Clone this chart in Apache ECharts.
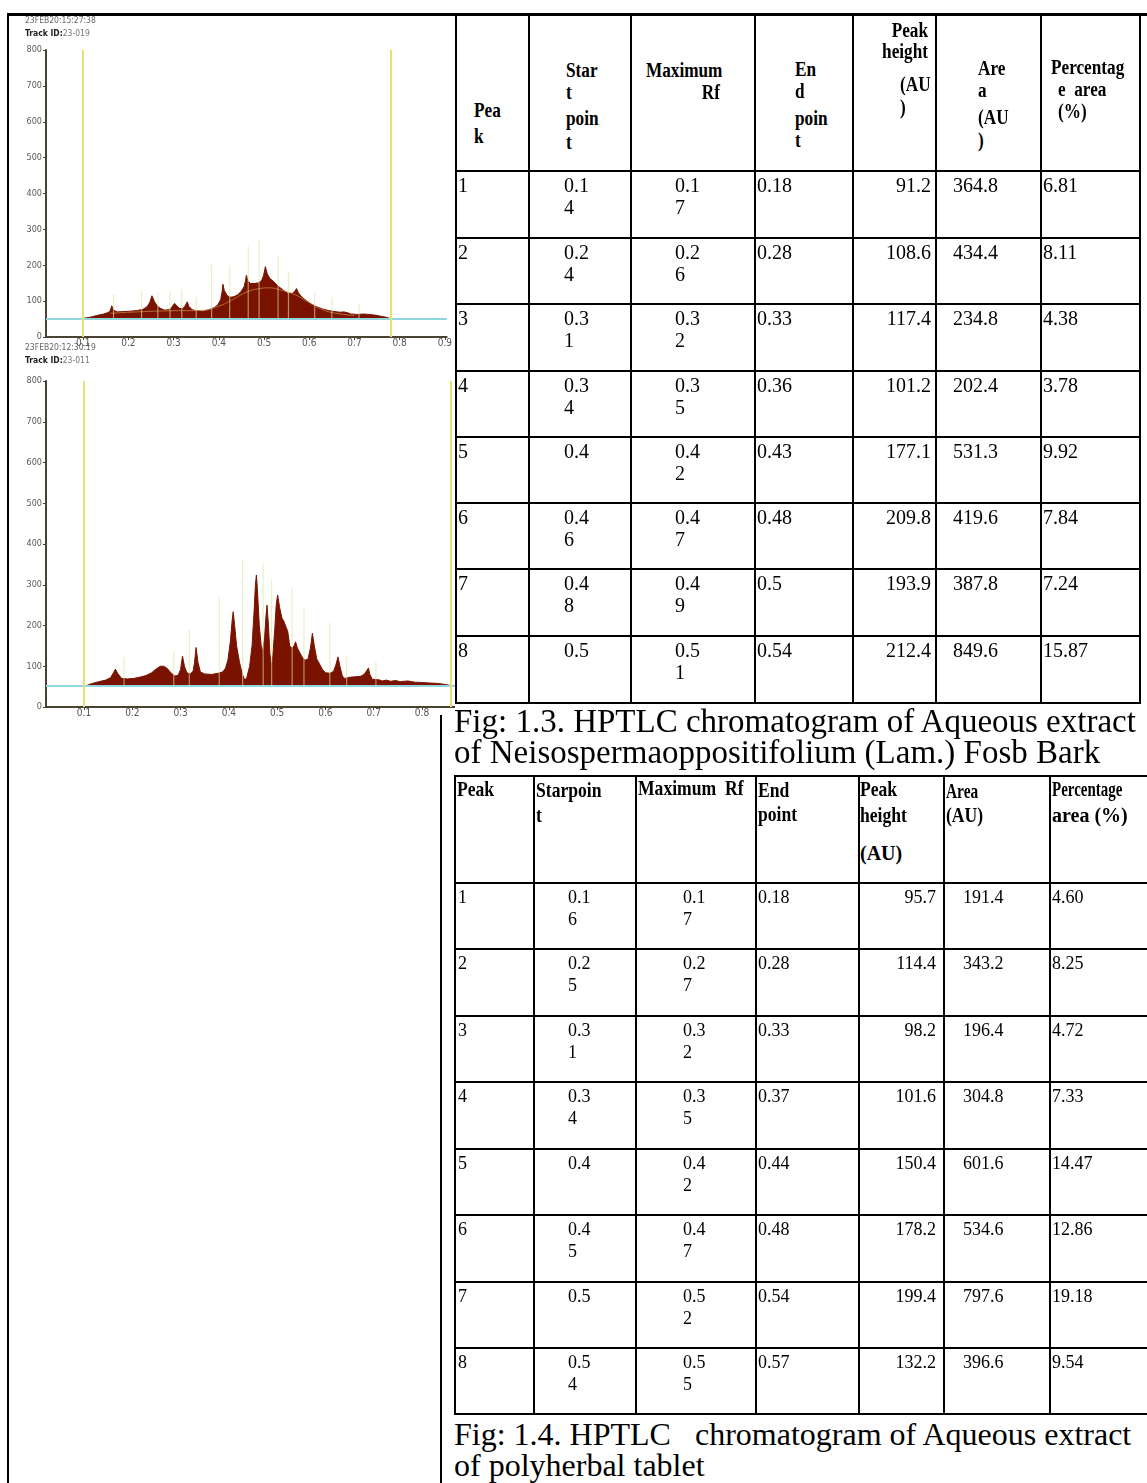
<!DOCTYPE html>
<html>
<head>
<meta charset="utf-8">
<script src="https://cdn.jsdelivr.net/npm/echarts@6.0.0/dist/echarts.min.js"></script>
<style>
  html, body { margin: 0; padding: 0; background: #fff; }
  #page { position: relative; width: 1147px; height: 1483px; overflow: hidden; background: #fff; }
  #chromatograms { position: absolute; left: 0; top: 0; width: 455px; height: 720px; }
  .rule { position: absolute; background: #000; }
  .t { position: absolute; white-space: pre; font-family: 'Liberation Serif', 'Times New Roman', serif; color: #000; }
</style>
</head>
<body>
<div id="page"><div id="chromatograms"></div></div>
<script>
// ---------- densitogram data (Rf, AU) ----------
const rfTicks = [0.1, 0.2, 0.3, 0.4, 0.5, 0.6, 0.7, 0.8, 0.9];

const track1Stamp = '23FEB20:15:27:38';
const track1Id = '23-019';
const track2Stamp = '23FEB20:12:30:19';
const track2Id = '23-011';

const baseline1 = 52;
const window1 = [0.1, 0.78];
const scan1 = [
  [0.100,52],[0.115,55],[0.130,60],[0.145,64],[0.155,68],[0.160,74],[0.163,87],[0.167,75],[0.175,70],
  [0.190,71],[0.205,72],[0.220,74],[0.232,77],[0.241,84],[0.247,96],[0.252,115],[0.257,100],[0.263,88],
  [0.270,80],[0.280,75],[0.290,76],[0.296,83],[0.302,94],[0.307,87],[0.313,80],[0.320,79],[0.325,86],
  [0.330,98],[0.334,85],[0.341,76],[0.350,73],[0.365,72],[0.378,76],[0.390,82],[0.398,90],[0.404,104],
  [0.407,125],[0.409,147],[0.412,130],[0.418,116],[0.425,111],[0.433,112],[0.442,118],[0.450,128],
  [0.456,141],[0.459,157],[0.461,172],[0.464,157],[0.470,149],[0.478,149],[0.488,151],[0.495,158],
  [0.499,172],[0.503,196],[0.507,176],[0.513,163],[0.520,156],[0.530,143],[0.540,133],[0.552,122],
  [0.562,121],[0.567,126],[0.572,135],[0.576,123],[0.584,111],[0.595,100],[0.605,91],[0.617,84],
  [0.630,78],[0.642,74],[0.655,71],[0.668,69],[0.676,70],[0.680,74],[0.684,68],[0.692,64],[0.705,63],
  [0.720,64],[0.732,63],[0.745,61],[0.758,58],[0.770,55],[0.778,52]
];
const fit1 = [
  [0.16,66],[0.22,70],[0.29,73],[0.36,74],[0.40,86],[0.43,104],[0.46,124],[0.49,135],[0.51,137],
  [0.54,130],[0.57,117],[0.60,96],[0.63,76],[0.66,66],[0.70,60]
];
const markers1 = [
  [0.167,119],[0.229,129],[0.265,125],[0.292,129],[0.318,133],[0.350,111],[0.384,203],[0.424,199],
  [0.465,252],[0.489,270],[0.531,226],[0.554,181],[0.612,125],[0.650,111],[0.710,94]
];

const baseline2 = 52;
const window2 = [0.104, 0.86];
const scan2 = [
  [0.104,52],[0.115,57],[0.130,62],[0.145,66],[0.155,72],[0.161,84],[0.165,93],[0.170,82],[0.178,70],
  [0.190,69],[0.202,70],[0.215,73],[0.228,77],[0.240,84],[0.250,94],[0.258,100],[0.265,100],[0.272,95],
  [0.280,84],[0.288,76],[0.295,78],[0.300,92],[0.304,125],[0.308,100],[0.313,84],[0.320,81],[0.326,88],
  [0.329,110],[0.332,146],[0.336,110],[0.341,86],[0.350,81],[0.365,80],[0.378,83],[0.387,86],[0.393,95],
  [0.398,115],[0.403,160],[0.407,215],[0.409,234],[0.412,200],[0.416,150],[0.422,110],[0.428,80],
  [0.433,66],[0.437,72],[0.443,100],[0.448,150],[0.452,230],[0.455,300],[0.457,324],[0.459,290],
  [0.463,200],[0.467,150],[0.470,136],[0.474,170],[0.477,225],[0.479,250],[0.482,200],[0.485,130],
  [0.488,99],[0.491,125],[0.495,190],[0.498,250],[0.501,275],[0.505,245],[0.510,218],[0.514,210],
  [0.518,206],[0.522,185],[0.526,150],[0.531,144],[0.535,150],[0.538,160],[0.542,145],[0.547,133],
  [0.553,120],[0.558,115],[0.564,118],[0.569,145],[0.573,181],[0.577,150],[0.582,118],[0.588,105],
  [0.594,92],[0.600,84],[0.610,83],[0.617,88],[0.622,105],[0.626,123],[0.630,100],[0.635,76],
  [0.640,70],[0.650,73],[0.660,74],[0.672,75],[0.680,80],[0.686,90],[0.689,96],[0.692,80],[0.697,68],
  [0.710,67],[0.718,64],[0.726,66],[0.735,63],[0.745,65],[0.755,62],[0.770,64],[0.785,61],[0.800,60],
  [0.815,59],[0.830,58],[0.845,56],[0.858,53]
];
const markers2 = [
  [0.183,123],[0.286,137],[0.318,189],[0.380,270],[0.4285,363],[0.471,353],[0.4886,312],[0.531,290],
  [0.5555,243],[0.609,207],[0.644,123],[0.7045,111]
];

// ---------- peak tables ----------
const peakNo = ['1','2','3','4','5','6','7','8'];

const head1 = [['Pea','k'], ['Star','t','poin','t'], ['Maximum','Rf'], ['En','d','poin','t'],
               ['Peak','height','(AU',')'], ['Are','a','(AU',')'], ['Percentag','e  area','(%)']];
const start1 = ['0.14','0.24','0.31','0.34','0.4','0.46','0.48','0.5'];
const max1   = ['0.17','0.26','0.32','0.35','0.42','0.47','0.49','0.51'];
const end1   = ['0.18','0.28','0.33','0.36','0.43','0.48','0.5','0.54'];
const height1 = ['91.2','108.6','117.4','101.2','177.1','209.8','193.9','212.4'];
const area1   = ['364.8','434.4','234.8','202.4','531.3','419.6','387.8','849.6'];
const pct1    = ['6.81','8.11','4.38','3.78','9.92','7.84','7.24','15.87'];

const head2 = [['Peak'], ['Starpoin','t'], ['Maximum  Rf'], ['End','point'],
               ['Peak','height','(AU)'], ['Area','(AU)'], ['Percentage','area (%)']];
const start2 = ['0.16','0.25','0.31','0.34','0.4','0.45','0.5','0.54'];
const max2   = ['0.17','0.27','0.32','0.35','0.42','0.47','0.52','0.55'];
const end2   = ['0.18','0.28','0.33','0.37','0.44','0.48','0.54','0.57'];
const height2 = ['95.7','114.4','98.2','101.6','150.4','178.2','199.4','132.2'];
const area2   = ['191.4','343.2','196.4','304.8','601.6','534.6','797.6','396.6'];
const pct2    = ['4.60','8.25','4.72','7.33','14.47','12.86','19.18','9.54'];

const caption1 = ['Fig: 1.3. HPTLC chromatogram of Aqueous extract',
                  'of Neisospermaoppositifolium (Lam.) Fosb Bark'];
const caption2 = ['Fig: 1.4. HPTLC   chromatogram of Aqueous extract',
                  'of polyherbal tablet'];

// ---------- densitograms ----------
const FILL = '#7a1200';
const AXIS = '#4a4331';
const CYAN = '#8fd6de';
const YELLOW = '#e9df73';
const SMALL_FONT = '"DejaVu Sans Condensed", "Liberation Sans Narrow", "Roboto", sans-serif';

function xAxisFor(idx, min, max) {
  return {
    type: 'value', gridIndex: idx, min: min, max: max,
    axisLine: { show: true, onZero: false, lineStyle: { color: AXIS, width: 2 } },
    axisTick: { show: true, length: 3, customValues: rfTicks, lineStyle: { color: AXIS } },
    axisLabel: { customValues: rfTicks, formatter: v => v.toFixed(1), color: '#555', fontSize: 10,
                 fontFamily: SMALL_FONT, margin: 1, alignMinLabel: 'center', alignMaxLabel: 'center' },
    splitLine: { show: false }
  };
}
function yAxisFor(idx) {
  return {
    type: 'value', gridIndex: idx, min: 0, max: 800, interval: 100,
    axisLine: { show: true, lineStyle: { color: AXIS, width: 2 } },
    axisTick: { show: true, length: 3, lineStyle: { color: AXIS } },
    axisLabel: { color: '#5a5a5a', fontSize: 9, fontFamily: SMALL_FONT, margin: 4 },
    splitLine: { show: false }
  };
}
function scanSeries(idx, data, base, win) {
  return {
    type: 'line', xAxisIndex: idx, yAxisIndex: idx, data: data, symbol: 'none', z: 3,
    lineStyle: { color: FILL, width: 1 },
    areaStyle: { color: FILL, opacity: 1, origin: base },
    markLine: {
      silent: true, symbol: ['none', 'none'], label: { show: false }, animation: false,
      data: [
        { yAxis: base, lineStyle: { color: CYAN, width: 2, type: 'solid' } },
        { xAxis: win[0], lineStyle: { color: YELLOW, width: 2, type: 'solid' } },
        { xAxis: win[1], lineStyle: { color: YELLOW, width: 2, type: 'solid' } }
      ]
    }
  };
}
function markerSeries(idx, data, base) {
  return {
    type: 'custom', xAxisIndex: idx, yAxisIndex: idx, data: data, z: 5, silent: true,
    renderItem: function (params, api) {
      const p0 = api.coord([api.value(0), base]);
      const p1 = api.coord([api.value(0), api.value(1)]);
      return { type: 'line', shape: { x1: p0[0], y1: p0[1], x2: p1[0], y2: p1[1] },
               style: { stroke: 'rgba(218,230,160,0.6)', lineWidth: 1.2 } };
    }
  };
}
function stampText(x, y, stamp, id) {
  return [
    { type: 'text', x: x, y: y, style: { text: stamp, fill: '#666', font: '8.5px ' + SMALL_FONT, verticalAlign: 'middle' } },
    { type: 'text', x: x, y: y + 13, style: {
        text: '{b|Track ID:}' + id, fill: '#777', font: '8.5px ' + SMALL_FONT, verticalAlign: 'middle',
        rich: { b: { fontWeight: 'bold', fill: '#222', fontSize: 8.5, fontFamily: SMALL_FONT } } } }
  ];
}

const chart = echarts.init(document.getElementById('chromatograms'), null, { renderer: 'canvas' });
chart.setOption({
  animation: false,
  backgroundColor: 'transparent',
  grid: [
    { left: 46, top: 50, width: 409, height: 287 },
    { left: 46, top: 381, width: 409, height: 326 }
  ],
  xAxis: [xAxisFor(0, 0.0176, 0.904), xAxisFor(1, 0.0213, 0.8683)],
  yAxis: [yAxisFor(0), yAxisFor(1)],
  series: [
    scanSeries(0, scan1, baseline1, window1),
    { type: 'line', xAxisIndex: 0, yAxisIndex: 0, data: fit1, symbol: 'none', smooth: 0.5, z: 4,
      lineStyle: { color: '#c98a45', width: 1, opacity: 0.75 } },
    markerSeries(0, markers1, baseline1),
    scanSeries(1, scan2, baseline2, window2),
    markerSeries(1, markers2, baseline2)
  ],
  graphic: stampText(25, 21, track1Stamp, track1Id).concat(stampText(25, 348, track2Stamp, track2Id))
});

// ---------- page rules, tables and captions ----------
const page = document.getElementById('page');
function rule(x, y, w, h) {
  const d = document.createElement('div');
  d.className = 'rule';
  d.style.left = x + 'px'; d.style.top = y + 'px';
  d.style.width = w + 'px'; d.style.height = h + 'px';
  page.appendChild(d);
}
// one text block; several lines share a single element with a fixed line pitch
function label(lines, x, yc, o) {
  const d = document.createElement('div');
  d.className = 't';
  const lh = o.lh || Math.round(o.size * 1.15);
  d.style.fontSize = o.size + 'px';
  d.style.lineHeight = lh + 'px';
  d.style.top = (yc - lh / 2) + 'px';
  if (o.bold) d.style.fontWeight = 'bold';
  if (o.align === 'right') {
    d.style.left = (x - 400) + 'px'; d.style.width = '400px'; d.style.textAlign = 'right';
  } else {
    d.style.left = x + 'px';
  }
  if (o.sx) {
    d.style.transform = 'scaleX(' + o.sx + ')';
    d.style.transformOrigin = o.align === 'right' ? 'right top' : 'left top';
  }
  d.textContent = Array.isArray(lines) ? lines.join('\n') : lines;
  page.appendChild(d);
}
function drawGrid(cols, rows, w) {
  const x0 = cols[0], x1 = cols[cols.length - 1], y0 = rows[0], y1 = rows[rows.length - 1];
  rows.forEach(y => rule(x0 - w / 2, y - w / 2, x1 - x0 + w, w));
  cols.forEach(x => rule(x - w / 2, y0 - w / 2, w, y1 - y0 + w));
}
// narrow Rf cells wrap after three characters
function wrap3(s) { return s.length > 3 ? [s.slice(0, 3), s.slice(3)] : [s]; }
function drawBody(rows, colPos, columns, size, lh) {
  for (let r = 0; r < 8; r++) {
    columns.forEach((col, c) => {
      const lines = (c === 1 || c === 2) ? wrap3(col[r]) : [col[r]];
      label(lines, colPos[c][0], rows[r + 1] + 14, { size: size, lh: lh, align: colPos[c][1] });
    });
  }
}

// page frame
rule(7, 13, 1140, 3);
rule(7, 13, 2, 1470);
rule(440, 715, 2, 768);

// table 1
const cols1 = [456, 529, 631, 755, 853, 936, 1041, 1140];
const rows1 = [14, 171, 238, 304, 371, 437, 503, 569, 636, 703];
drawGrid(cols1, rows1, 2.5);
const headPos1 = [
  [[474, 110], [474, 136]],
  [[566, 70], [566, 92], [566, 118], [566, 142]],
  [[646, 70], [720, 92, 'right']],
  [[795, 69], [795, 91], [795, 118], [795, 140]],
  [[928, 30, 'right'], [928, 51, 'right'], [900, 84], [900, 107]],
  [[978, 68], [978, 90], [978, 117], [978, 140]],
  [[1051, 67], [1058, 89], [1058, 111]]
];
head1.forEach((lines, c) => lines.forEach((ln, i) => {
  const p = headPos1[c][i];
  label(ln, p[0], p[1], { size: 20, lh: 22, bold: true, align: p[2], sx: 0.86 });
}));
drawBody(rows1, [[458, 'left'], [564, 'left'], [675, 'left'], [757, 'left'], [931, 'right'], [953, 'left'], [1043, 'left']],
         [peakNo, start1, max1, end1, height1, area1, pct1], 20, 22);
label(caption1, 454, 721, { size: 33, lh: 31 });

// table 2
const cols2 = [455, 534, 636, 756, 859, 944, 1050, 1152];
const rows2 = [776, 883, 949, 1016, 1082, 1149, 1215, 1282, 1348, 1414];
drawGrid(cols2, rows2, 2.5);
const headPos2 = [
  [[457, 789]],
  [[536, 790], [536, 815]],
  [[638, 788]],
  [[758, 790], [758, 814]],
  [[860, 789], [860, 815], [860, 853, 20]],
  [[946, 791, 0, 0.7], [946, 815]],
  [[1052, 789, 0, 0.68], [1052, 815, 20]]
];
head2.forEach((lines, c) => lines.forEach((ln, i) => {
  const p = headPos2[c][i];
  const big = p[2] === 20;
  label(ln, p[0], p[1], { size: big ? 20 : 22, lh: 24, bold: true, sx: big ? 1 : (p[3] || 0.8) });
}));
drawBody(rows2, [[458, 'left'], [568, 'left'], [683, 'left'], [758, 'left'], [936, 'right'], [963, 'left'], [1052, 'left']],
         [peakNo, start2, max2, end2, height2, area2, pct2], 18, 22.5);
label(caption2, 454, 1434, { size: 32, lh: 31 });
</script>
</body>
</html>
